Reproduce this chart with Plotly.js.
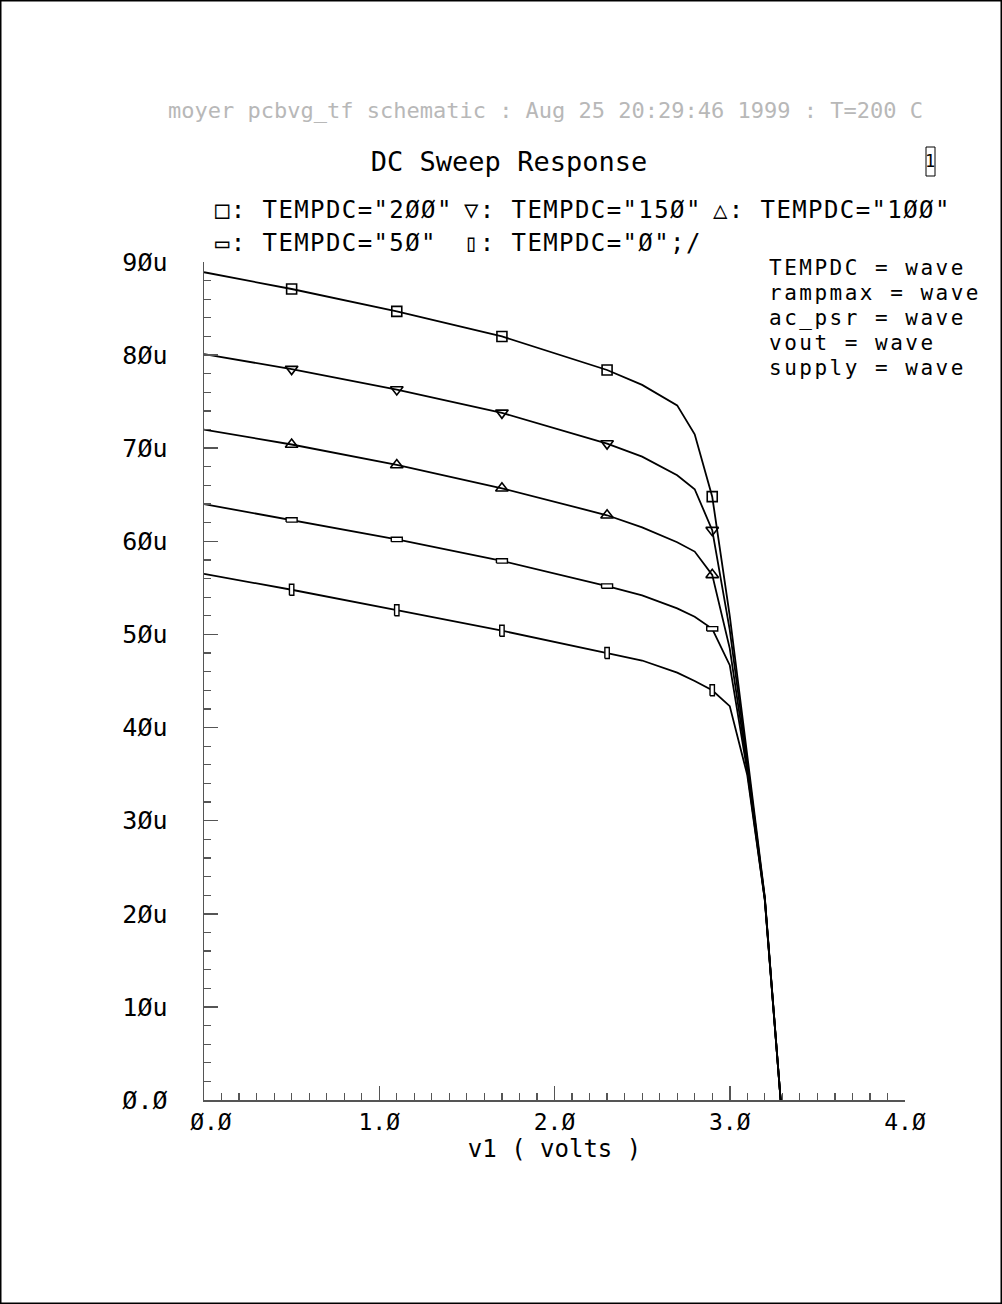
<!DOCTYPE html>
<html>
<head>
<meta charset="utf-8">
<script src="https://cdn.plot.ly/plotly-3.0.1.min.js"></script>
<style>
  html, body { margin: 0; padding: 0; background: #fff; }
  #chart { width: 1002px; height: 1304px; }
</style>
</head>
<body>
<div id="chart"></div>
<script>
// ---- data (currents in microamps) ----
const v1 = [0, 0.5, 1.1, 1.7, 2.3, 2.5, 2.7, 2.8, 2.9, 3.0, 3.1, 3.2, 3.3];
const temp200 = [88.9, 87.1, 84.7, 82.0, 78.4, 76.8, 74.6, 71.5, 64.8, 52.0, 37.0, 21.8, -2.3];
const temp150 = [80.1, 78.5, 76.3, 73.8, 70.5, 69.1, 67.1, 65.6, 61.2, 50.5, 36.3, 21.7, -2.3];
const temp100 = [72.0, 70.4, 68.2, 65.7, 62.8, 61.5, 59.9, 58.9, 56.4, 48.5, 35.8, 21.6, -2.3];
const temp50  = [64.0, 62.3, 60.2, 57.9, 55.2, 54.2, 52.8, 51.9, 50.6, 46.7, 35.3, 21.5, -2.3];
const temp0   = [56.5, 54.8, 52.6, 50.4, 48.0, 47.2, 45.9, 45.0, 44.0, 42.3, 34.9, 21.5, -2.3];
const markerV1 = [0.5, 1.1, 1.7, 2.3, 2.9];

const seriesNames = ['TEMPDC="2ØØ"', 'TEMPDC="15Ø"', 'TEMPDC="1ØØ"', 'TEMPDC="5Ø"', 'TEMPDC="Ø"'];
const seriesData = [temp200, temp150, temp100, temp50, temp0];

const xTickVals = [0, 1, 2, 3, 4];
const xTickText = ['\u00a0Ø.Ø', '1.Ø', '2.Ø', '3.Ø', '4.Ø'];
const yTickVals = [0, 10, 20, 30, 40, 50, 60, 70, 80, 90];
const yTickText = ['Ø.Ø', '1Øu', '2Øu', '3Øu', '4Øu', '5Øu', '6Øu', '7Øu', '8Øu', '9Øu'];

const headerText = 'moyer pcbvg_tf schematic : Aug 25 20:29:46 1999 : T=200 C';
const titleText = 'DC Sweep Response';
const xTitle = 'v1 ( volts )';
const infoLines = ['TEMPDC = wave', 'rampmax = wave', 'ac_psr = wave', 'vout = wave', 'supply = wave'];

// ---- layout geometry ----
const W = 1002, H = 1304;
const M = { l: 204, r: 97, t: 262, b: 204 };
const PW = W - M.l - M.r, PH = H - M.t - M.b;
const px = x => (x - M.l) / PW;
const py = y => (H - M.b - y) / PH;
const XR = [0, 4], YR = [0, 90];

const FONT = '"DejaVu Sans Mono", "Liberation Mono", monospace';

// marker styles per series: symbol markers, or small outlined boxes (half-width, half-height in px)
const markerStyles = [
  { kind: 'symbol', symbol: 'square-open', size: 10 },
  { kind: 'symbol', symbol: 'triangle-down-open', size: 11 },
  { kind: 'symbol', symbol: 'triangle-up-open', size: 11 },
  { kind: 'box', hw: 5.5, hh: 2.2 },
  { kind: 'box', hw: 2.2, hh: 5.5 }
];
const legendSyms = ['□', '▽', '△', '▭', '▯'];

const xPerPx = (XR[1] - XR[0]) / PW, yPerPx = (YR[1] - YR[0]) / PH;

const traces = [];
seriesData.forEach((ys, i) => {
  traces.push({
    type: 'scatter', mode: 'lines', x: v1, y: ys, name: seriesNames[i],
    line: { color: '#000', width: 1.8 }, showlegend: false, hoverinfo: 'skip'
  });
  const mx = [], my = [];
  v1.forEach((x, k) => { if (markerV1.some(m => Math.abs(m - x) < 1e-9)) { mx.push(x); my.push(ys[k]); } });
  const st = markerStyles[i];
  if (st.kind === 'symbol') {
    traces.push({
      type: 'scatter', mode: 'markers', x: mx, y: my, showlegend: false, hoverinfo: 'skip',
      marker: { symbol: st.symbol, size: st.size, color: '#000', line: { color: '#000', width: 1.6 } }
    });
  } else {
    const bx = [], by = [];
    const dx = st.hw * xPerPx, dy = st.hh * yPerPx;
    mx.forEach((x, k) => {
      const y = my[k];
      bx.push(x - dx, x + dx, x + dx, x - dx, x - dx, null);
      by.push(y - dy, y - dy, y + dy, y + dy, y - dy, null);
    });
    traces.push({
      type: 'scatter', mode: 'lines', x: bx, y: by, showlegend: false, hoverinfo: 'skip',
      line: { color: '#000', width: 1.4 }, fill: 'toself', fillcolor: '#fff', connectgaps: false
    });
  }
});

const annotations = [];
const spacing = {}; // annotation index -> letter spacing (px)
function addAnn(a, ls) { if (ls) spacing[annotations.length] = ls; annotations.push(a); }

// gray header
addAnn({
  xref: 'paper', yref: 'paper', x: px(545), y: py(110), xanchor: 'center', yanchor: 'middle',
  text: headerText, showarrow: false, font: { family: FONT, size: 22, color: '#b8b8b8' }
});
// legend entries (fixed columns)
const legendPos = [[213, 210], [462, 210], [711, 210], [213, 243], [462, 243]];
seriesNames.forEach((nm, i) => {
  const [xx, yy] = legendPos[i];
  addAnn({
    xref: 'paper', yref: 'paper', x: px(xx), y: py(yy), xanchor: 'left', yanchor: 'middle', align: 'left',
    text: legendSyms[i] + ': ' + nm + (i === 4 ? ';/' : ''), showarrow: false,
    font: { family: FONT, size: 24, color: '#000' }
  }, 1.4);
});
// info block
infoLines.forEach((t, k) => {
  addAnn({
    xref: 'paper', yref: 'paper', x: px(767), y: py(268 + 25 * k), xanchor: 'left', yanchor: 'middle', align: 'left',
    text: t, showarrow: false, font: { family: FONT, size: 21, color: '#000' }
  }, 2.5);
});
// "1" box label
addAnn({
  xref: 'paper', yref: 'paper', x: px(930.5), y: py(161), xanchor: 'center', yanchor: 'middle',
  text: '1', showarrow: false, font: { family: FONT, size: 17, color: '#000' }
});

const shapes = [
  { type: 'rect', xref: 'paper', yref: 'paper', x0: px(0.75), x1: px(1001.25), y0: py(1303.25), y1: py(0.75),
    line: { color: '#000', width: 1.5 }, fillcolor: 'rgba(0,0,0,0)' },
  { type: 'rect', xref: 'paper', yref: 'paper', x0: px(926), x1: px(935), y0: py(176), y1: py(147),
    line: { color: '#000', width: 1 }, fillcolor: 'rgba(0,0,0,0)' }
];

const axisCommon = {
  showgrid: false, zeroline: false, showline: true, linecolor: '#555', linewidth: 1.5,
  ticks: 'inside', tickcolor: '#555', tickwidth: 1.5, ticklen: 14, tickmode: 'array'
};

const layout = {
  width: W, height: H, margin: M,
  paper_bgcolor: '#fff', plot_bgcolor: '#fff', showlegend: false,
  title: { text: titleText, x: 509 / W, xanchor: 'center', y: 1 - 162 / H, yanchor: 'middle',
           font: { family: FONT, size: 27, color: '#000' } },
  xaxis: Object.assign({}, axisCommon, {
    range: XR, tickvals: xTickVals, ticktext: xTickText, ticklabelstandoff: 1,
    tickfont: { family: FONT, size: 23, color: '#000' },
    minor: { dtick: 0.1, ticks: 'inside', ticklen: 7, tickcolor: '#555', tickwidth: 1.2 },
    title: { text: xTitle, standoff: 4, font: { family: FONT, size: 24, color: '#000' } }
  }),
  yaxis: Object.assign({}, axisCommon, {
    range: YR, tickvals: yTickVals, ticktext: yTickText, ticklabelstandoff: 30,
    tickfont: { family: FONT, size: 25, color: '#000' },
    minor: { dtick: 2, ticks: 'inside', ticklen: 7, tickcolor: '#555', tickwidth: 1.2 }
  }),
  annotations: annotations, shapes: shapes
};

Plotly.newPlot('chart', traces, layout, { displayModeBar: false, staticPlot: true }).then(gd => {
  Object.keys(spacing).forEach(idx => {
    const t = gd.querySelector('.annotation[data-index="' + idx + '"] text.annotation-text');
    if (t) t.setAttribute('letter-spacing', spacing[idx] + 'px');
  });
});
</script>
</body>
</html>
